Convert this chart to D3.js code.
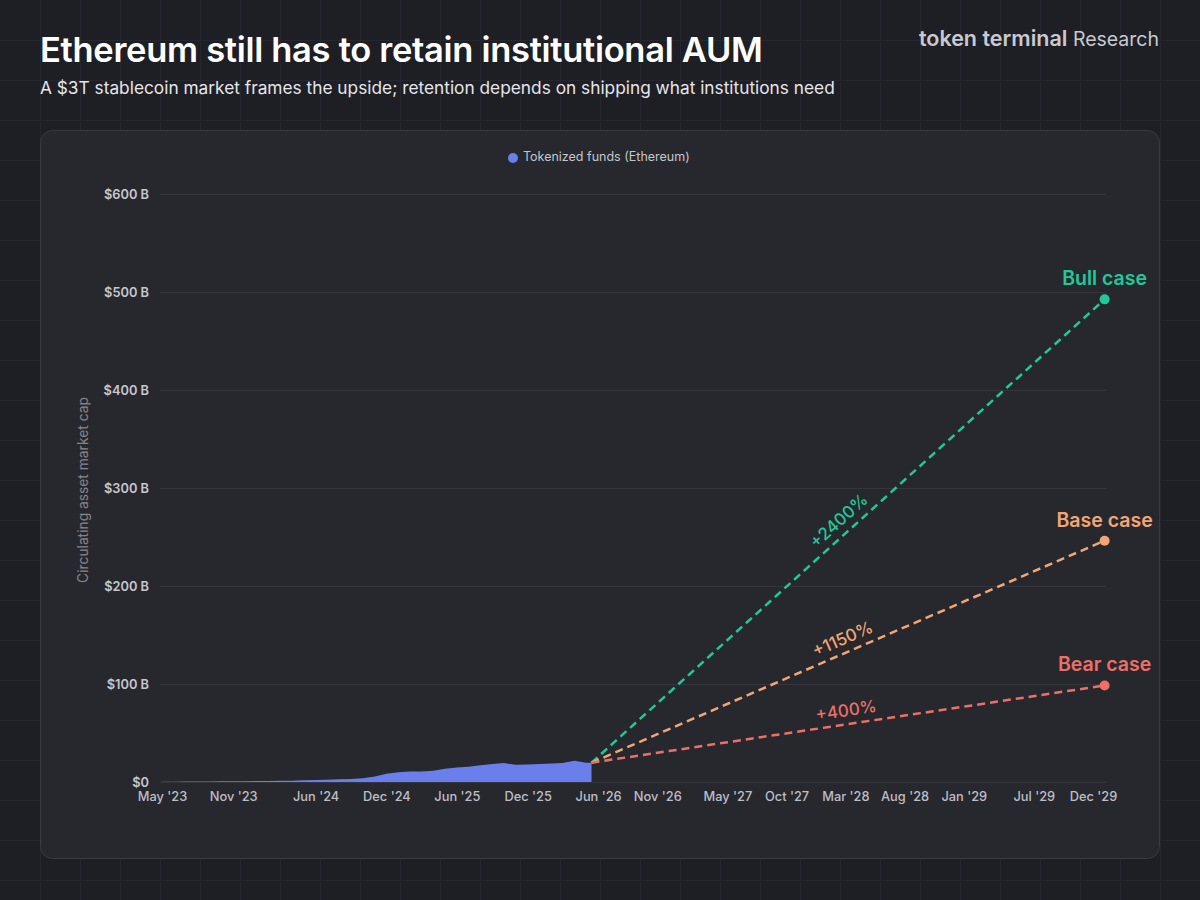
<!DOCTYPE html>
<meta charset="utf-8">
<head>
    <title>Ethereum tokenized funds</title>
    <script src="https://d3js.org/d3.v7.min.js"></script>
    <style>
        body { margin: 0; background: #1e1f24; }
        text { font-family: Inter, "Noto Sans", sans-serif; }
    </style>
</head>
<body>
<div id="my_dataviz"></div>
<script>

// historic tokenized fund AUM on Ethereum, $B (monthly)
var histDates = ["2023-05-01","2023-06-01","2023-07-01","2023-08-01","2023-09-01","2023-10-01",
    "2023-11-01","2023-12-01","2024-01-01","2024-02-01","2024-03-01","2024-04-01","2024-05-01",
    "2024-06-01","2024-07-01","2024-08-01","2024-09-01","2024-10-01","2024-11-01","2024-12-01",
    "2025-01-01","2025-02-01","2025-03-01","2025-04-01","2025-05-01","2025-06-01","2025-07-01",
    "2025-08-01","2025-09-01","2025-10-01","2025-11-01","2025-12-01","2026-01-01","2026-02-01",
    "2026-03-01","2026-04-01","2026-05-01","2026-05-15"];
var histAum = [0.2, 0.3, 0.4, 0.5, 0.6, 0.7,
    0.8, 0.8, 0.9, 1.0, 1.2, 1.4, 1.7,
    2.0, 2.4, 2.7, 3.0, 3.8, 5.5, 8.5,
    10.0, 10.8, 10.6, 11.5, 13.5, 14.8, 15.5,
    17.2, 18.3, 19.3, 17.5, 17.8, 18.3, 18.8,
    19.5, 21.8, 19.6, 19.7];

// projections
var projStart = "2026-05-15";
var projEnd = "2029-12-31";
var scenarioNames = ["Bull case", "Base case", "Bear case"];
var scenarioEnd = [492.5, 246.25, 98.5];
var scenarioPct = ["+2400%", "+1150%", "+400%"];
var scenarioColors = ["#1fc999", "#f4a574", "#ee6f66"];

// ticks
var xTickDates = ["2023-05-01","2023-11-01","2024-06-01","2024-12-01","2025-06-01","2025-12-01",
    "2026-06-01","2026-11-01","2027-05-01","2027-10-01","2028-03-01","2028-08-01","2029-01-01",
    "2029-07-01","2029-12-01"];
var yTicks = [0, 100, 200, 300, 400, 500, 600];

var W = 1200, H = 900;
var parse = d3.timeParse("%Y-%m-%d");

var svg = d3.select("#my_dataviz")
    .append("svg")
    .attr("width", W)
    .attr("height", H);

// page background + faint grid
svg.append("rect").attr("width", W).attr("height", H).attr("fill", "#1e1f24");
var bgGrid = svg.append("g").attr("stroke", "#26272e").attr("stroke-width", 1);
bgGrid.selectAll(".vg").data(d3.range(40, W, 40)).enter().append("line")
    .attr("x1", function(d) { return d + 0.5 }).attr("x2", function(d) { return d + 0.5 })
    .attr("y1", 0).attr("y2", H);
bgGrid.selectAll(".hg").data(d3.range(40, H, 40)).enter().append("line")
    .attr("y1", function(d) { return d + 0.5 }).attr("y2", function(d) { return d + 0.5 })
    .attr("x1", 0).attr("x2", W);

// title block
svg.append("text").attr("x", 40).attr("y", 62)
    .text("Ethereum still has to retain institutional AUM")
    .style("font-size", "34.5px").style("font-weight", 600).attr("fill", "#ffffff")
    .style("letter-spacing", "-0.3px");
svg.append("text").attr("x", 40).attr("y", 94)
    .text("A $3T stablecoin market frames the upside; retention depends on shipping what institutions need")
    .style("font-size", "17.3px").attr("fill", "#e6e6ea");

var logo = svg.append("text").attr("x", 1159).attr("y", 46).attr("text-anchor", "end")
    .attr("fill", "#c9cacf");
logo.append("tspan").text("token terminal").style("font-size", "21.5px").style("font-weight", 600);
logo.append("tspan").text(" Research").style("font-size", "19.5px").style("font-weight", 400);

// card
svg.append("rect").attr("x", 40.5).attr("y", 130.5).attr("width", 1119).attr("height", 728)
    .attr("rx", 12).attr("fill", "#27282e").attr("stroke", "#393a42");

// scales
var x = d3.scaleTime()
    .domain([parse("2023-05-01"), parse("2030-01-01")])
    .range([162, 1105]);
var y = d3.scaleLinear()
    .domain([0, 600])
    .range([782, 194]);

// horizontal gridlines
svg.append("g").selectAll("line").data(yTicks).enter().append("line")
    .attr("x1", 160).attr("x2", 1106)
    .attr("y1", function(d) { return y(d) + 0.5 })
    .attr("y2", function(d) { return y(d) + 0.5 })
    .attr("stroke", "#34353d").attr("stroke-width", 1);

// y axis
var yAxis = svg.append("g")
    .attr("transform", "translate(149,0)")
    .call(d3.axisLeft(y).tickValues(yTicks).tickSize(0).tickPadding(0)
        .tickFormat(function(d) { return d === 0 ? "$0" : "$" + d + " B" }));
yAxis.select(".domain").remove();
yAxis.selectAll("text").style("font-size", "12.8px").style("font-weight", 600)
    .attr("fill", "#c6c7cd").style("font-family", "Inter, sans-serif");

// y axis label
svg.append("text")
    .attr("transform", "rotate(-90)")
    .attr("x", -490).attr("y", 88)
    .attr("text-anchor", "middle")
    .text("Circulating asset market cap")
    .style("font-size", "13.8px").attr("fill", "#84858d");

// x axis
var xAxis = svg.append("g")
    .attr("transform", "translate(0,792)")
    .call(d3.axisBottom(x).tickValues(xTickDates.map(parse)).tickSize(0).tickPadding(0)
        .tickFormat(d3.timeFormat("%b '%y")));
xAxis.select(".domain").remove();
xAxis.selectAll("text").style("font-size", "12.8px").style("font-weight", 500)
    .attr("fill", "#bdbec5").style("font-family", "Inter, sans-serif");

// historic area
var hist = histDates.map(function(d, i) { return {date: parse(d), v: histAum[i]} });
svg.append("path")
    .datum(hist)
    .attr("fill", "#6a7fec")
    .attr("d", d3.area()
        .x(function(d) { return x(d.date) })
        .y0(y(0))
        .y1(function(d) { return y(d.v) })
    );

// projection lines
var startV = histAum[histAum.length - 1];
var proj = svg.append("g");
scenarioNames.forEach(function(name, i) {
    var pts = [{date: parse(projStart), v: startV}, {date: parse(projEnd), v: scenarioEnd[i]}];
    var col = scenarioColors[i];
    proj.append("path")
        .datum(pts)
        .attr("fill", "none")
        .attr("stroke", col)
        .attr("stroke-width", 2.5)
        .attr("stroke-dasharray", "8,5")
        .attr("d", d3.line()
            .x(function(d) { return x(d.date) })
            .y(function(d) { return y(d.v) })
        );
    var x0 = x(pts[0].date), y0 = y(pts[0].v), x1 = x(pts[1].date), y1 = y(pts[1].v);
    proj.append("circle").attr("cx", x1).attr("cy", y1).attr("r", 5).attr("fill", col);
    proj.append("text")
        .attr("x", x1).attr("y", y1 - 14)
        .attr("text-anchor", "middle")
        .text(name)
        .style("font-size", "19.5px").style("font-weight", 600).attr("fill", col);
    // pct label along the line
    var t = 0.5;
    var mx = x0 + (x1 - x0) * t, my = y0 + (y1 - y0) * t;
    var ang = Math.atan2(y1 - y0, x1 - x0) * 180 / Math.PI;
    proj.append("text")
        .attr("transform", "translate(" + mx + "," + my + ") rotate(" + ang + ")")
        .attr("y", -8)
        .attr("text-anchor", "middle")
        .text(scenarioPct[i])
        .style("font-size", "17px").style("font-weight", 500).attr("fill", col);
});

// legend
svg.append("circle").attr("cx", 513).attr("cy", 158).attr("r", 5).attr("fill", "#6a7fec");
svg.append("text").attr("x", 523).attr("y", 158).attr("dominant-baseline", "middle")
    .text("Tokenized funds (Ethereum)")
    .style("font-size", "12.5px").attr("fill", "#c4c5cc");

</script>
</body>
</html>
